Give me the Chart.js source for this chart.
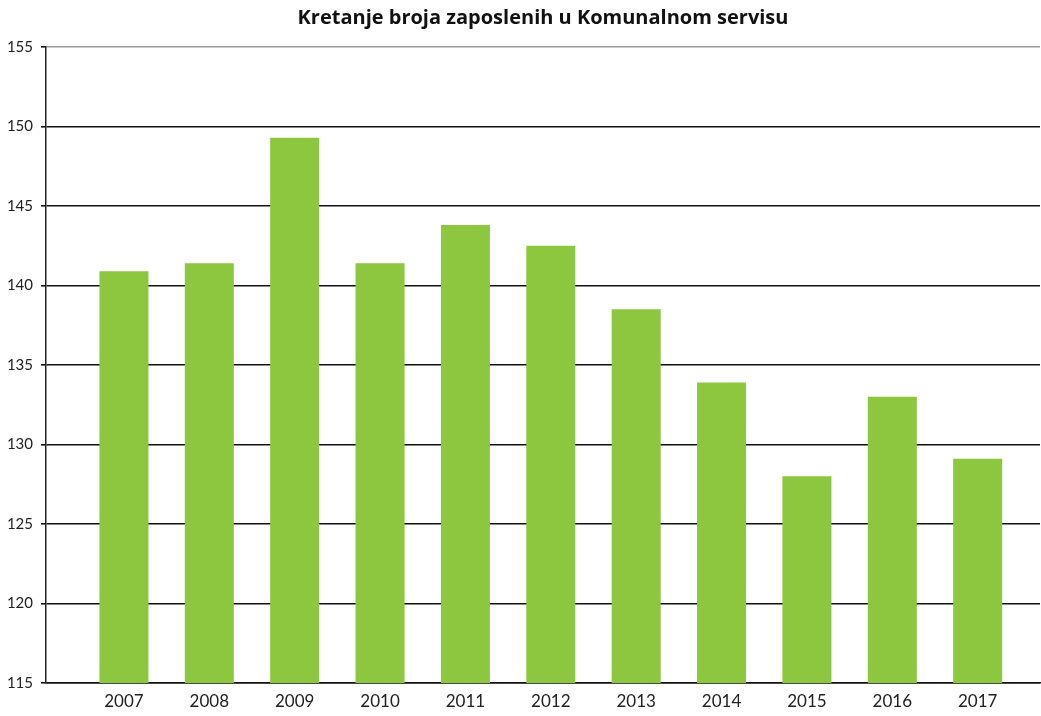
<!DOCTYPE html>
<html>
<head>
<meta charset="utf-8">
<script src="https://cdn.jsdelivr.net/npm/chart.js@4.4.1/dist/chart.umd.min.js"></script>
<style>
  html, body { margin: 0; padding: 0; background: #ffffff; }
  #wrap { width: 1041px; height: 716px; }
</style>
</head>
<body>
<div id="wrap"><canvas id="c" width="1041" height="716"></canvas></div>
<script>
const titleText = 'Kretanje broja zaposlenih u Komunalnom servisu';
const years = ['2007', '2008', '2009', '2010', '2011', '2012', '2013', '2014', '2015', '2016', '2017'];
const employees = [140.9, 141.4, 149.3, 141.4, 143.8, 142.5, 138.5, 133.9, 128.0, 133.0, 129.1];
const yTicks = [115, 120, 125, 130, 135, 140, 145, 150, 155];

const points = years.map((y, i) => ({ x: i, y: employees[i] }));

new Chart(document.getElementById('c'), {
  type: 'bar',
  data: {
    datasets: [{
      label: 'Broj zaposlenih',
      data: points,
      backgroundColor: '#8DC63F',
      borderWidth: 0,
      categoryPercentage: 1.0,
      barPercentage: 0.574
    }]
  },
  options: {
    responsive: false,
    animation: false,
    layout: { padding: { left: 0, right: 1, top: 0, bottom: 0 } },
    plugins: {
      legend: { display: false },
      tooltip: { enabled: false },
      title: {
        display: true,
        text: titleText,
        fullSize: false,
        color: '#111111',
        font: { family: 'Open Sans', size: 20, weight: 'bold' },
        padding: { top: 6, bottom: 17 }
      }
    },
    scales: {
      x: {
        type: 'linear',
        offset: false,
        min: -0.913,
        max: 10.73,
        afterBuildTicks: (scale) => { scale.ticks = years.map((_, i) => ({ value: i })); },
        afterFit: (scale) => { scale.height = 33; },
        grid: { display: false, drawTicks: false, offset: false },
        border: { display: true, color: '#111111', width: 1.5 },
        ticks: {
          autoSkip: false,
          maxRotation: 0,
          padding: 8,
          color: '#222222',
          font: { family: 'Lato', size: 17 },
          callback: (v) => years[v] !== undefined ? years[v] : ''
        }
      },
      y: {
        min: 115,
        max: 155,
        afterBuildTicks: (scale) => { scale.ticks = yTicks.map(v => ({ value: v })); },
        afterFit: (scale) => { scale.width = 46; },
        grid: {
          color: (ctx) => (ctx.tick && ctx.tick.value === 155) ? '#9a9a9a' : '#111111',
          lineWidth: 1.6,
          tickLength: 5,
          tickColor: '#111111'
        },
        border: { display: true, color: '#222222', width: 1.5 },
        ticks: {
          padding: 8,
          color: '#222222',
          font: { family: 'Lato', size: 15 }
        }
      }
    }
  }
});
</script>
</body>
</html>
